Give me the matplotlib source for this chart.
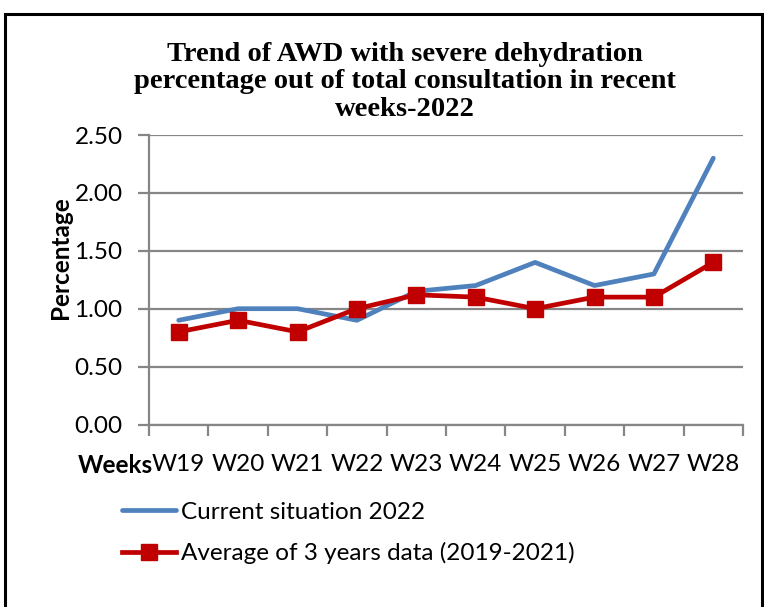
import matplotlib
matplotlib.use("Agg")
import matplotlib.pyplot as plt
from matplotlib.patches import Rectangle
import numpy as np

weeks = ["W19", "W20", "W21", "W22", "W23", "W24", "W25", "W26", "W27", "W28"]
current_2022 = [0.90, 1.00, 1.00, 0.90, 1.15, 1.20, 1.40, 1.20, 1.30, 2.30]
avg_2019_2021 = [0.80, 0.90, 0.80, 1.00, 1.12, 1.10, 1.00, 1.10, 1.10, 1.40]
yticks = [0.0, 0.5, 1.0, 1.5, 2.0, 2.5]

W, H = 764, 607
fig = plt.figure(figsize=(W / 100, H / 100), dpi=100)

tick_font = "Lato"
fs = 17.5
blue = "#4F81BD"
red = "#C00000"
grid = "#868686"

# outer frame
fig.patches.append(Rectangle((4.5 / W, -0.02), (761.5 - 4.5) / W, 1 - 13.5 / H + 0.02,
                             transform=fig.transFigure, fill=False, edgecolor="black",
                             linewidth=2.2))

ax = fig.add_axes([149 / W, 1 - 424.5 / H, (743 - 149) / W, (424.5 - 135) / H])
x = np.arange(len(weeks))
ax.plot(x, current_2022, color=blue, linewidth=3.4, solid_capstyle="round",
        label="Current situation 2022")
ax.plot(x, avg_2019_2021, color=red, linewidth=3.4, marker="s", markersize=12,
        markerfacecolor=red, markeredgecolor=red,
        label="Average of 3 years data (2019-2021)")

ax.set_xlim(-0.5, len(weeks) - 0.5)
ax.set_ylim(0, 2.5)
ax.set_yticks(yticks)
ax.set_yticklabels([f"{v:.2f}" for v in yticks], fontfamily=tick_font, fontsize=fs)
ax.set_xticks(x)
ax.set_xticklabels(weeks, fontfamily=tick_font, fontsize=fs)
ax.set_xticks(np.arange(-0.5, len(weeks)), minor=True)
ax.tick_params(axis="x", which="major", length=0, pad=21)
ax.tick_params(axis="x", which="minor", length=8, width=1.6, color=grid, direction="out")
ax.tick_params(axis="y", length=8, width=1.6, color=grid, pad=11)
ax.yaxis.grid(True, color=grid, linewidth=1.6)
ax.set_axisbelow(True)
for s in ["top", "right"]:
    ax.spines[s].set_visible(False)
for s in ["left", "bottom"]:
    ax.spines[s].set_color(grid)
    ax.spines[s].set_linewidth(1.6)

ax.set_ylabel("Percentage", fontfamily=tick_font, fontweight="bold", fontsize=fs)
ax.yaxis.set_label_coords(-77 / (743 - 149), 0.578)
fig.text(78 / W, 1 - 473 / H, "Weeks", fontfamily=tick_font, fontweight="bold",
         fontsize=fs, ha="left", va="baseline")

fig.text(405 / W, 1 - 82 / H,
         "Trend of AWD with severe dehydration\npercentage out of total consultation in recent\nweeks-2022",
         fontfamily="Liberation Serif", fontweight="bold", fontsize=20.5,
         ha="center", va="center", linespacing=1.15)

leg = fig.legend(loc="upper left", bbox_to_anchor=(112 / W, 1 - 492 / H), frameon=False,
                 prop={"family": tick_font, "size": fs}, handlelength=2.25,
                 handletextpad=0.2, labelspacing=0.8, borderaxespad=0)

fig.savefig("out.png", dpi=100)
